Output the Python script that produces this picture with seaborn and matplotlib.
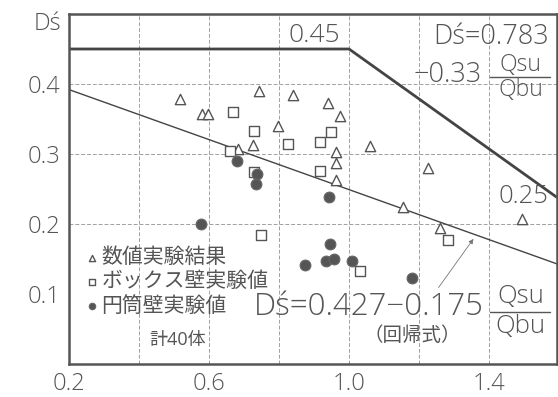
"""Ds' vs Qsu/Qbu scatter with design bound and regression line."""
import matplotlib
matplotlib.use("Agg")
import matplotlib.pyplot as plt
import pandas as pd
import seaborn as sns

# ---- data ------------------------------------------------------------------
tri_x = [0.517, 0.58, 0.597, 0.743, 0.683, 0.726, 0.797, 0.84, 0.94, 0.974,
         0.963, 0.963, 0.963, 1.06, 1.226, 1.154, 1.26, 1.494]
tri_y = [0.379, 0.357, 0.357, 0.39, 0.307, 0.313, 0.34, 0.384, 0.373, 0.354,
         0.303, 0.287, 0.263, 0.311, 0.28, 0.224, 0.194, 0.207]

box_x = [0.669, 0.729, 0.66, 0.729, 0.826, 0.917, 0.949, 0.917, 0.749, 1.031, 1.283]
box_y = [0.36, 0.333, 0.304, 0.274, 0.314, 0.317, 0.331, 0.276, 0.184, 0.133, 0.177]

cyl_x = [0.68, 0.737, 0.734, 0.577, 0.874, 0.943, 0.946, 0.934, 0.957, 1.009, 1.18]
cyl_y = [0.29, 0.271, 0.257, 0.2, 0.141, 0.239, 0.171, 0.147, 0.15, 0.147, 0.123]

series_names = ["数値実験結果", "ボックス壁実験値", "円筒壁実験値"]

# upper bound: 0.45 plateau then Ds' = 0.783 - 0.33 Qsu/Qbu
bound_x = [0.2, 1.0, 1.594]
bound_y = [0.45, 0.45, 0.238]
# regression: Ds' = 0.427 - 0.175 Qsu/Qbu
reg_x = [0.2, 1.594]
reg_y = [0.392, 0.143]

xticks = [0.2, 0.6, 1.0, 1.4]
yticks = [0.1, 0.2, 0.3, 0.4]
grid_x = [0.4, 0.6, 0.8, 1.0, 1.2, 1.4]
grid_y = [0.2, 0.3, 0.4]

INK = "#555555"

sns.set_style("white")
plt.rcParams["font.family"] = ["Open Sans", "Noto Sans CJK JP", "DejaVu Sans"]

fig = plt.figure(figsize=(5.58, 3.97), dpi=100)
ax = fig.add_axes([69 / 558, 33 / 397, 488 / 558, 350 / 397])

for gx in grid_x:
    ax.axvline(gx, color="#a0a0a0", lw=0.7, ls=(0, (4, 2)), zorder=0)
for gy in grid_y:
    ax.axhline(gy, color="#a0a0a0", lw=0.7, ls=(0, (4, 2)), zorder=0)

ax.plot(bound_x, bound_y, color="#444444", lw=2.0, solid_capstyle="butt")
ax.plot(reg_x, reg_y, color="#444444", lw=1.0)

df = pd.concat([
    pd.DataFrame({"x": tri_x, "y": tri_y, "kind": series_names[0]}),
    pd.DataFrame({"x": box_x, "y": box_y, "kind": series_names[1]}),
    pd.DataFrame({"x": cyl_x, "y": cyl_y, "kind": series_names[2]}),
])

styles = {
    series_names[0]: dict(marker="^", s=55, facecolor="white", edgecolor=INK, linewidth=1.0),
    series_names[1]: dict(marker="s", s=60, facecolor="white", edgecolor=INK, linewidth=1.0),
    series_names[2]: dict(marker="o", s=60, facecolor="#555555", edgecolor="#666666", linewidth=0.8),
}
for name in series_names:
    sns.scatterplot(data=df[df["kind"] == name], x="x", y="y", ax=ax,
                    label=name, zorder=3, **styles[name])

ax.set_xlim(0.2, 1.594)
ax.set_ylim(0.0, 0.5)
ax.set_xticks(xticks)
ax.set_xticklabels([f"{v:.1f}" for v in xticks])
ax.set_yticks(yticks)
ax.set_yticklabels([f"{v:.1f}" for v in yticks])
ax.tick_params(length=0, labelsize=17, labelcolor=INK, pad=6)
for lab in ax.get_xticklabels() + ax.get_yticklabels():
    lab.set_fontweight("light")
ax.set_xlabel("")
ax.set_ylabel("")
for sp in ax.spines.values():
    sp.set_linewidth(1.8)
    sp.set_color("#555555")

leg = ax.legend(loc="upper left", bbox_to_anchor=(0.0, 0.375), frameon=False,
                fontsize=15, handletextpad=0.05, labelspacing=0.15,
                handlelength=0.8, markerscale=0.6, borderaxespad=0.3)
for t in leg.get_texts():
    t.set_color(INK)

# annotations
tkw = dict(color=INK, fontweight="light")
ax.text(0.9, 0.469, "0.45", fontsize=19, ha="center", va="center", **tkw)
ax.text(1.572, 0.467, "Dś=0.783", fontsize=19.5, ha="right", va="center", **tkw)
ax.text(1.38, 0.413, "−0.33", fontsize=19.5, ha="right", va="center", **tkw)
ax.text(1.49, 0.427, "Qsu", fontsize=16.5, ha="center", va="center", **tkw)
ax.text(1.49, 0.391, "Qbu", fontsize=16.5, ha="center", va="center", **tkw)
ax.plot([1.403, 1.574], [0.41, 0.41], color=INK, lw=1.0)
ax.text(1.497, 0.239, "0.25", fontsize=18.5, ha="center", va="center", **tkw)

ax.text(1.385, 0.081, "Dś=0.427−0.175", fontsize=22.5, ha="right", va="center", **tkw)
ax.text(1.49, 0.097, "Qsu", fontsize=18.5, ha="center", va="center", **tkw)
ax.text(1.49, 0.053, "Qbu", fontsize=18.5, ha="center", va="center", **tkw)
ax.plot([1.403, 1.574], [0.074, 0.074], color=INK, lw=1.0)
ax.text(1.18, 0.04, "（回帰式）", fontsize=14, ha="center", va="center", color=INK)
ax.annotate("", xy=(1.36, 0.182), xytext=(1.251, 0.106),
            arrowprops=dict(arrowstyle="-|>", color="#777777", lw=0.6,
                            mutation_scale=7))
ax.text(0.509, 0.034, "計40体", fontsize=13, ha="center", va="center", color=INK)

fig.text(47 / 558, 1 - 24 / 397, "Dś", fontsize=17, ha="center", va="center", **tkw)

fig.savefig("out.png", dpi=100)
